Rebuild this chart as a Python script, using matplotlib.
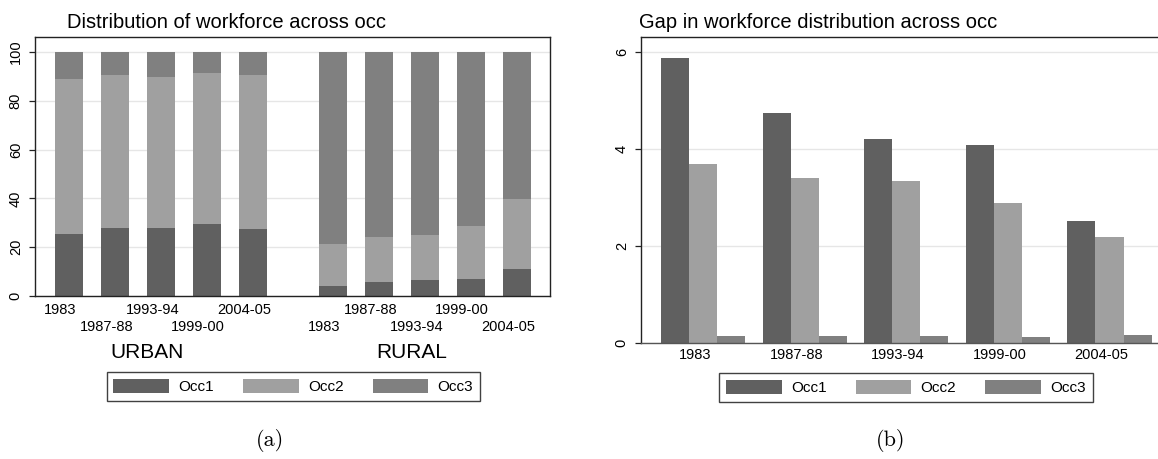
import numpy as np
import matplotlib
matplotlib.use("Agg")
import matplotlib.pyplot as plt
from matplotlib.patches import Patch

plt.rcParams["font.family"] = ["Liberation Sans", "DejaVu Sans"]

# ---- data ----
years = ["1983", "1987-88", "1993-94", "1999-00", "2004-05"]
occ_names = ["Occ1", "Occ2", "Occ3"]

# panel (a): % distribution, stacked
urban_occ1 = [25.3, 27.8, 27.8, 29.5, 27.3]
urban_occ2 = [63.4, 62.7, 61.7, 61.9, 63.2]
urban_occ3 = [11.3, 9.5, 10.5, 8.6, 9.5]
rural_occ1 = [4.1, 5.7, 6.5, 6.9, 10.9]
rural_occ2 = [17.1, 18.6, 18.5, 21.8, 29.0]
rural_occ3 = [78.8, 75.7, 75.0, 71.3, 60.1]
area_names = ["URBAN", "RURAL"]

# panel (b): gap by occupation
gap_occ1 = [5.88, 4.73, 4.20, 4.07, 2.50]
gap_occ2 = [3.69, 3.39, 3.33, 2.87, 2.17]
gap_occ3 = [0.14, 0.13, 0.14, 0.12, 0.16]

colors = ["#606060", "#a0a0a0", "#808080"]
W, H = 1158, 459


def px_box(x0, y0, x1, y1):
    """pixel box (top-left origin) -> figure fraction rect"""
    return [x0 / W, 1 - y1 / H, (x1 - x0) / W, (y1 - y0) / H]


def style_axes(ax):
    ax.grid(axis="y", color="#e6e6e6", linewidth=1.0)
    ax.set_axisbelow(True)
    for s in ax.spines.values():
        s.set_color("#222222")
        s.set_linewidth(1.0)
    ax.tick_params(axis="y", length=4.3, width=0.9, color="#222222",
                   labelsize=10.5, pad=4.5)
    for lab in ax.get_yticklabels():
        lab.set_rotation(90)
        lab.set_va("center")


fig = plt.figure(figsize=(W / 100, H / 100), dpi=100)

# ---------------- panel (a) ----------------
ax1 = fig.add_axes(px_box(35, 36.7, 550, 296))
group_gap = 1.75
pos_u = np.arange(5)
pos_r = np.arange(5) + 4 + group_gap
pos = np.concatenate([pos_u, pos_r])
o1 = np.array(urban_occ1 + rural_occ1)
o2 = np.array(urban_occ2 + rural_occ2)
o3 = np.array(urban_occ3 + rural_occ3)
bw = 0.615
ax1.bar(pos, o1, bw, color=colors[0], linewidth=0)
ax1.bar(pos, o2, bw, bottom=o1, color=colors[1], linewidth=0)
ax1.bar(pos, o3, bw, bottom=o1 + o2, color=colors[2], linewidth=0)
ax1.set_xlim(-0.743, pos_r[-1] + 0.72)
ax1.set_ylim(0, 106.2)
ax1.set_yticks([0, 20, 40, 60, 80, 100])
style_axes(ax1)

# Stata-style alternating labels: two rows
shift = 0.19
ax1.set_xticks(pos[0::2] - shift)
ax1.set_xticklabels((years * 2)[0::2])
ax1.set_xticks(pos[1::2] - shift, minor=True)
ax1.set_xticklabels((years * 2)[1::2], minor=True)
ax1.tick_params(axis="x", which="major", length=0, labelsize=10.5, pad=5)
ax1.tick_params(axis="x", which="minor", length=0, labelsize=10.5, pad=17.5)

for name, grp in zip(area_names, [pos_u, pos_r]):
    ax1.text(grp.mean() - 0.3, -0.219, name, ha="center", va="center",
             fontsize=15, transform=ax1.get_xaxis_transform(), clip_on=False)

fig.text(67 / W, 1 - 23 / H, "Distribution of workforce across occ",
         ha="left", va="center", fontsize=14.5)

# ---------------- panel (b) ----------------
ax2 = fig.add_axes(px_box(641, 36.7, 1172, 342.5))
x = np.arange(len(years))
w = 0.276
for k, (vals, c) in enumerate(zip([gap_occ1, gap_occ2, gap_occ3], colors)):
    ax2.bar(x + (k - 1) * w, vals, w, color=c, linewidth=0)
ax2.set_xlim(-0.611, 4.615)
ax2.set_ylim(0, 6.31)
ax2.set_yticks([0, 2, 4, 6])
style_axes(ax2)
ax2.spines["right"].set_visible(False)
ax2.spines["bottom"].set_color("#555555")
ax2.set_xticks(x - 0.08)
ax2.set_xticklabels(years)
ax2.tick_params(axis="x", length=0, labelsize=10.5, pad=4)

fig.text(639 / W, 1 - 23 / H, "Gap in workforce distribution across occ",
         ha="left", va="center", fontsize=14.5)

# ---------------- legends ----------------
handles = [Patch(facecolor=c, edgecolor="none") for c in colors]
for cx, cy in [(293.3, 386.5), (905.8, 387.5)]:
    leg = fig.legend(handles, occ_names, ncol=3, loc="center",
                     bbox_to_anchor=(cx / W, 1 - cy / H), fontsize=11,
                     handlelength=3.65, handleheight=1.0, handletextpad=0.6,
                     columnspacing=1.9, borderpad=0.45, borderaxespad=0,
                     fancybox=False, frameon=True)
    leg.get_frame().set_edgecolor("#111111")
    leg.get_frame().set_linewidth(1.0)

# sub-figure captions
fig.text(270 / W, 1 - 441 / H, "(a)", ha="center", va="center",
         fontsize=16, family="cmr10")
fig.text(891 / W, 1 - 441 / H, "(b)", ha="center", va="center",
         fontsize=16, family="cmr10")

fig.savefig("out.png", dpi=100)
